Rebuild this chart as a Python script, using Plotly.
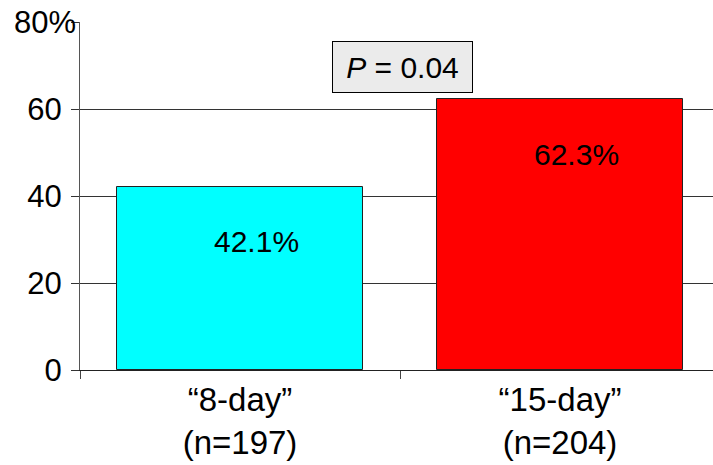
import plotly.graph_objects as go

# Data
categories = ["\u201c8-day\u201d<br>(n=197)", "\u201c15-day\u201d<br>(n=204)"]
rates = [42.1, 62.3]
bar_colors = ["#00FFFF", "#FF0000"]
y_ticks = [0, 20, 40, 60, 80]
y_ticktext = ["0", "20", "40", "60", ""]
p_label = "<i>P</i> = 0.04"

FONT = "Arial, 'Liberation Sans', sans-serif"

fig = go.Figure()
fig.add_trace(go.Bar(
    x=categories,
    y=rates,
    width=0.77,
    marker=dict(color=bar_colors, line=dict(color="#222222", width=1)),
    hoverinfo="skip",
))

# value labels inside the bars
for cat, val in zip(categories, rates):
    fig.add_annotation(
        x=cat, y=val, xref="x", yref="y",
        text=f"{val:.1f}%", showarrow=False,
        xshift=16, yshift=-55, yanchor="middle",
        font=dict(family=FONT, size=30, color="black"),
    )

# top tick label with percent sign
fig.add_annotation(
    x=-2 / 633, y=80, xref="paper", yref="y",
    text="80%", showarrow=False, xanchor="right", yanchor="middle",
    font=dict(family=FONT, size=31, color="black"),
)

# significance box
fig.add_annotation(
    x=0.509, y=69.7, xref="x", yref="y",
    text=p_label, showarrow=False,
    font=dict(family=FONT, size=30, color="black"),
    bgcolor="#EBEBEB", bordercolor="black", borderwidth=1, borderpad=5,
    width=129, height=40,
)

fig.update_layout(
    width=713, height=465,
    margin=dict(l=80, r=0, t=22, b=95),
    paper_bgcolor="white", plot_bgcolor="white",
    showlegend=False, bargap=0,
    font=dict(family=FONT, size=30, color="black"),
)

fig.update_xaxes(
    type="category", range=[-0.5, 1.478],
    tickson="boundaries", ticks="outside", ticklen=8, tickcolor="#444444",
    showline=True, linecolor="#222222", linewidth=1,
    showgrid=False, zeroline=False,
    tickfont=dict(family=FONT, size=33, color="black"),
)

fig.update_yaxes(
    range=[0, 80], tickvals=y_ticks, ticktext=y_ticktext,
    ticks="outside", ticklen=8, tickcolor="#333333",
    ticklabelstandoff=3,
    showline=True, linecolor="#555555", linewidth=1,
    showgrid=True, gridcolor="#333333", gridwidth=1,
    zeroline=False,
    tickfont=dict(family=FONT, size=31, color="black"),
)

fig.write_html("out.html")
